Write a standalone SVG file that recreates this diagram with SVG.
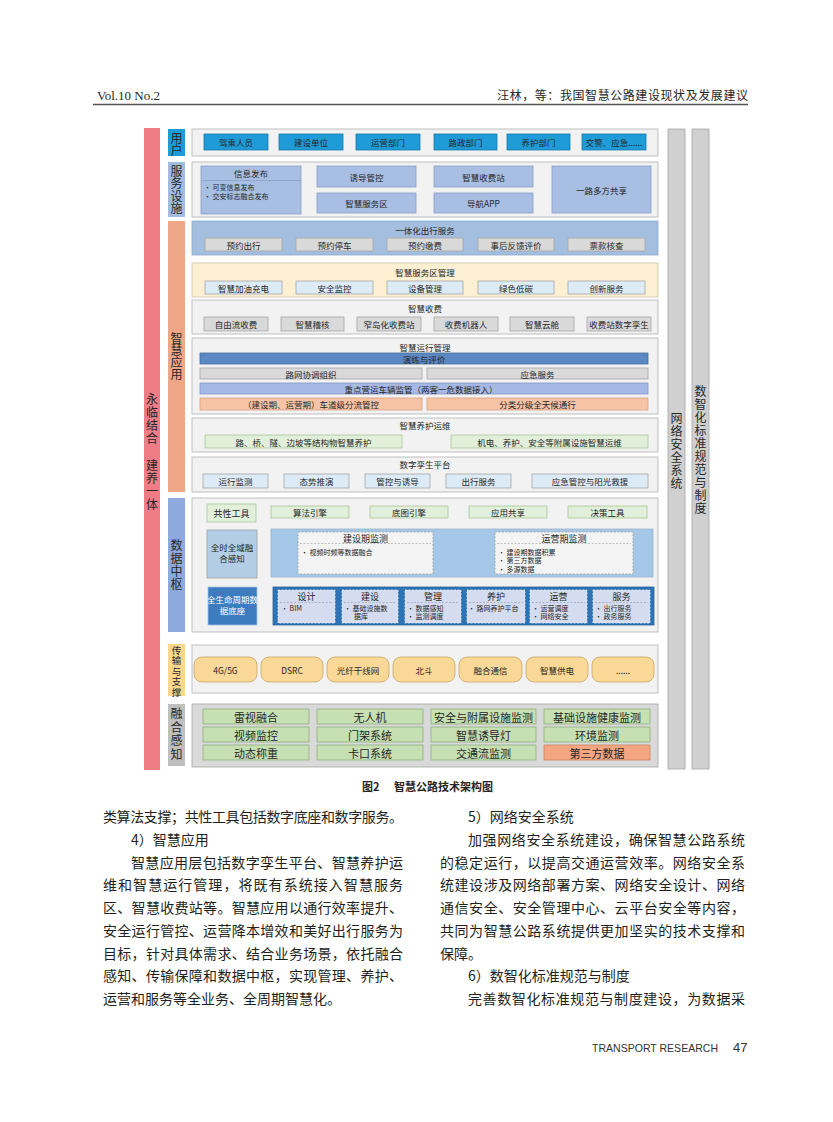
<svg xmlns="http://www.w3.org/2000/svg" width="833" height="1122" viewBox="0 0 833 1122">
<style>
text{font-family:"Noto Sans CJK SC","Noto Sans",sans-serif;fill:#262626}
.c{text-anchor:middle;dominant-baseline:central}
.m{dominant-baseline:central}
.v{text-anchor:middle;dominant-baseline:central;font-size:12px}
.f8{font-size:8.5px}
.f7{font-size:7px}
.f9{font-size:9px}
.f11{font-size:11px}
.cont{fill:#F2F2F2;stroke:#BFBFBF;stroke-width:1}
.ub{fill:#1F9CD8;stroke:#1B78A8;stroke-width:.8}
.sv{fill:#A9BEE3;stroke:#8A9FC6;stroke-width:.8}
.gb{fill:#D9D9D9;stroke:#A6A6A6;stroke-width:.8}
.lb{fill:#DDEBF7;stroke:#A6A6A6;stroke-width:.8}
.gr{fill:#E2EFDA;stroke:#A9C89A;stroke-width:.8}
.gr2{fill:#C6E0B4;stroke:#8FB07D;stroke-width:.8}
.tr{fill:#F9D898;stroke:#C8A766;stroke-width:.8}
.wb{fill:#F4F4F4;stroke:#A0A0A0;stroke-width:.8;stroke-dasharray:2 1.5}
.ib{fill:#D5DCF0;stroke:#E8ECF8;stroke-width:.8;stroke-dasharray:2 1.5}
.dl{stroke:#A0A0A0;stroke-width:.6;stroke-dasharray:2 1.5}
.body{font-size:14px;fill:#231F20}
.w{fill:#FFFFFF}
</style>

<g id="page-header">
<text x="97" y="100" style="font-family:'Liberation Serif',serif;font-size:13px">Vol.10 No.2</text>
<text x="497" y="100" textLength="251" lengthAdjust="spacing" style="font-size:12px">汪林，等：我国智慧公路建设现状及发展建议</text>
<line x1="93" y1="104.5" x2="748" y2="104.5" stroke="#555" stroke-width="1.5"/>
</g>

<g id="side-left">
<rect x="144" y="128" width="16" height="642" fill="#F07C86"/>
<text class="v" x="152 152 152 152" y="398 411 424 437">永临结合</text>
<text class="v" x="152 152 152 152" y="464 477 490 503">建养一体</text>
</g>

<g id="side-right">
<rect x="668" y="129" width="17" height="640" fill="#D0D0D0" stroke="#A6A6A6" stroke-width=".8"/>
<rect x="692" y="129" width="17" height="640" fill="#D0D0D0" stroke="#A6A6A6" stroke-width=".8"/>
<text class="v" x="676.5 676.5 676.5 676.5 676.5 676.5" y="417 430 443 456 469 482">网络安全系统</text>
<text class="v" x="700.5 700.5 700.5 700.5 700.5 700.5 700.5 700.5 700.5 700.5" y="390 403 416 429 442 455 468 481 494 507">数智化标准规范与制度</text>
</g>

<g id="layer-users">
<rect x="168" y="129" width="17" height="27" fill="#1F9CD8"/>
<text class="v" x="176.5 176.5" y="137 149">用户</text>
<rect class="cont" x="192" y="129" width="466" height="27"/>
<rect class="ub" x="204" y="134" width="64" height="16"/>
<rect class="ub" x="279" y="134" width="64" height="16"/>
<rect class="ub" x="356" y="134" width="64" height="16"/>
<rect class="ub" x="434" y="134" width="63" height="16"/>
<rect class="ub" x="507" y="134" width="63" height="16"/>
<rect class="ub" x="582" y="134" width="64" height="16"/>
<g class="f8">
<text class="c" x="236" y="142">驾乘人员</text>
<text class="c" x="311" y="142">建设单位</text>
<text class="c" x="388" y="142">运营部门</text>
<text class="c" x="465.5" y="142">路政部门</text>
<text class="c" x="538.5" y="142">养护部门</text>
<text class="c" x="614" y="142">交警、应急......</text>
</g>
</g>

<g id="layer-service">
<rect x="168" y="162" width="17" height="55" fill="#A3BBE0"/>
<text class="v" x="176.5 176.5 176.5 176.5" y="170 182.5 195 207.5">服务设施</text>
<rect class="cont" x="192" y="162" width="466" height="55"/>
<rect class="sv" x="201" y="166" width="100" height="48"/>
<line x1="201" y1="180.5" x2="301" y2="180.5" stroke="#8A9FC6" stroke-width=".8"/>
<text class="c f8" x="251" y="173">信息发布</text>
<text class="f7"><tspan x="204" y="190">•  可变信息发布</tspan><tspan x="204" y="198.5">•  交安标志融合发布</tspan></text>
<rect class="sv" x="317" y="166" width="99" height="21"/>
<rect class="sv" x="317" y="193" width="99" height="20"/>
<rect class="sv" x="434" y="166" width="99" height="21"/>
<rect class="sv" x="434" y="193" width="99" height="20"/>
<rect class="sv" x="552" y="166" width="99" height="47"/>
<g class="f8">
<text class="c" x="366.5" y="176.5">诱导管控</text>
<text class="c" x="366.5" y="203">智慧服务区</text>
<text class="c" x="483.5" y="176.5">智慧收费站</text>
<text class="c" x="483.5" y="203">导航APP</text>
<text class="c" x="601.5" y="189.5">一路多方共享</text>
</g>
</g>

<g id="layer-app">
<rect x="168" y="221" width="17" height="271" fill="#EEA787"/>
<text class="v" x="176.5 176.5 176.5 176.5" y="337 349 361 373">智慧应用</text>
</g>

<g id="app-travel">
<rect x="192" y="221" width="466" height="34" fill="#A4BEE0" stroke="#8EA8CE" stroke-width=".8"/>
<text class="c f8" x="425" y="229.5">一体化出行服务</text>
<rect class="gb" x="205" y="238" width="77" height="13"/>
<rect class="gb" x="296" y="238" width="77" height="13"/>
<rect class="gb" x="387" y="238" width="76" height="13"/>
<rect class="gb" x="478" y="238" width="76" height="13"/>
<rect class="gb" x="568" y="238" width="77" height="13"/>
<g class="f8">
<text class="c" x="243.5" y="244.5">预约出行</text>
<text class="c" x="334.5" y="244.5">预约停车</text>
<text class="c" x="425" y="244.5">预约缴费</text>
<text class="c" x="516" y="244.5">事后反馈评价</text>
<text class="c" x="606.5" y="244.5">票款核查</text>
</g>
</g>

<g id="app-servicearea">
<rect x="192" y="263" width="466" height="34" fill="#FDF0D2" stroke="#C9C2AE" stroke-width=".8"/>
<text class="c f8" x="425" y="272">智慧服务区管理</text>
<rect class="lb" x="205" y="281" width="77" height="13"/>
<rect class="lb" x="296" y="281" width="77" height="13"/>
<rect class="lb" x="387" y="281" width="76" height="13"/>
<rect class="lb" x="478" y="281" width="76" height="13"/>
<rect class="lb" x="568" y="281" width="77" height="13"/>
<g class="f8">
<text class="c" x="243.5" y="287.5">智慧加油充电</text>
<text class="c" x="334.5" y="287.5">安全监控</text>
<text class="c" x="425" y="287.5">设备管理</text>
<text class="c" x="516" y="287.5">绿色低碳</text>
<text class="c" x="606.5" y="287.5">创新服务</text>
</g>
</g>

<g id="app-toll">
<rect class="cont" x="192" y="300" width="466" height="34"/>
<text class="c f8" x="425" y="308">智慧收费</text>
<rect class="gb" x="204" y="317" width="64" height="14"/>
<rect class="gb" x="281" y="317" width="63" height="14"/>
<rect class="gb" x="357" y="317" width="64" height="14"/>
<rect class="gb" x="434" y="317" width="64" height="14"/>
<rect class="gb" x="510" y="317" width="64" height="14"/>
<rect class="gb" x="587" y="317" width="64" height="14"/>
<g class="f8">
<text class="c" x="236" y="324">自由流收费</text>
<text class="c" x="312.5" y="324">智慧稽核</text>
<text class="c" x="389" y="324">窄岛化收费站</text>
<text class="c" x="466" y="324">收费机器人</text>
<text class="c" x="542" y="324">智慧云舱</text>
<text class="c" x="619" y="324">收费站数字孪生</text>
</g>
</g>

<g id="app-operation">
<rect class="cont" x="192" y="338" width="466" height="76"/>
<text class="c f8" x="425" y="346.5">智慧运行管理</text>
<rect x="200" y="353" width="448" height="11" fill="#5B88C2" stroke="#41719C" stroke-width=".8"/>
<rect class="gb" x="200" y="368" width="222" height="11"/>
<rect class="gb" x="427" y="368" width="221" height="11"/>
<rect x="200" y="383" width="448" height="11" fill="#A5B8E6" stroke="#8497C8" stroke-width=".8"/>
<rect x="200" y="398" width="222" height="12" fill="#F8C4A6" stroke="#D9A07F" stroke-width=".8"/>
<rect x="427" y="398" width="221" height="12" fill="#F8C4A6" stroke="#D9A07F" stroke-width=".8"/>
<g class="f8">
<text class="c" x="424" y="358.5">演练与评价</text>
<text class="c" x="311" y="373.5">路网协调组织</text>
<text class="c" x="537.5" y="373.5">应急服务</text>
<text class="c" x="421" y="388.5">重点营运车辆监管（两客一危数据接入）</text>
<text class="c" x="311" y="404">（建设期、运营期）车道级分流管控</text>
<text class="c" x="537.5" y="404">分类分级全天候通行</text>
</g>
</g>

<g id="app-maintenance">
<rect class="cont" x="192" y="418" width="466" height="34"/>
<text class="c f8" x="425" y="425">智慧养护运维</text>
<rect class="gr" x="205" y="435" width="197" height="13"/>
<rect class="gr" x="451" y="435" width="197" height="13"/>
<g class="f8">
<text class="c" x="303.5" y="441.5">路、桥、隧、边坡等结构物智慧养护</text>
<text class="c" x="549.5" y="441.5">机电、养护、安全等附属设施智慧运维</text>
</g>
</g>

<g id="app-twin">
<rect class="cont" x="192" y="457" width="466" height="35"/>
<text class="c f8" x="425" y="463.5">数字孪生平台</text>
<rect class="lb" x="203" y="474" width="65" height="14"/>
<rect class="lb" x="284" y="474" width="65" height="14"/>
<rect class="lb" x="365" y="474" width="65" height="14"/>
<rect class="lb" x="446" y="474" width="65" height="14"/>
<rect class="lb" x="532" y="474" width="116" height="14"/>
<g class="f8">
<text class="c" x="235.5" y="481">运行监测</text>
<text class="c" x="316.5" y="481">态势推演</text>
<text class="c" x="397.5" y="481">管控与诱导</text>
<text class="c" x="478.5" y="481">出行服务</text>
<text class="c" x="590" y="481">应急管控与阳光救援</text>
</g>
</g>

<g id="layer-datahub">
<rect x="168" y="498" width="17" height="134" fill="#8EA9DB"/>
<text class="v" x="176.5 176.5 176.5 176.5" y="544 557 570 583">数据中枢</text>
<rect class="cont" x="192" y="498" width="466" height="134"/>
<rect class="gr" x="207" y="504" width="49" height="18"/>
<text class="c f9" x="231.5" y="513">共性工具</text>
<rect class="gr" x="271" y="506" width="78" height="12"/>
<rect class="gr" x="370" y="506" width="78" height="12"/>
<rect class="gr" x="469" y="506" width="78" height="12"/>
<rect class="gr" x="568" y="506" width="79" height="12"/>
<g class="f8">
<text class="c" x="310" y="512">算法引擎</text>
<text class="c" x="409" y="512">底图引擎</text>
<text class="c" x="508" y="512">应用共享</text>
<text class="c" x="607.5" y="512">决策工具</text>
</g>
<rect x="207" y="530" width="50" height="48" fill="#B3CDE7" stroke="#A0A0A0" stroke-width=".8"/>
<text class="f8" text-anchor="middle"><tspan x="232" y="551">全时全域融</tspan><tspan x="232" y="562">合感知</tspan></text>
<rect x="271" y="529" width="382" height="48" fill="#A6C8E8" stroke="#9AB4CC" stroke-width=".8"/>
<rect class="wb" x="298" y="532" width="135" height="42"/>
<line class="dl" x1="300" y1="543.5" x2="431" y2="543.5"/>
<text class="c f9" x="365.5" y="538">建设期监测</text>
<text class="f7" x="301" y="555">•   视频时频等数据融合</text>
<rect class="wb" x="495" y="532" width="138" height="42"/>
<line class="dl" x1="497" y1="543.5" x2="631" y2="543.5"/>
<text class="c f9" x="564" y="538">运营期监测</text>
<text class="f7"><tspan x="498" y="554.5">•   建设期数据积累</tspan><tspan x="498" y="563">•   第三方数据</tspan><tspan x="498" y="571.5">•   多源数据</tspan></text>
<rect x="208" y="587" width="49" height="38" fill="#3E7CC0" stroke="#9DC3E6" stroke-width=".8"/>
<text class="f8 w" text-anchor="middle"><tspan class="w" x="232.5" y="603">全生命周期数</tspan><tspan class="w" x="232.5" y="614">据底座</tspan></text>
<rect x="273" y="587" width="381" height="38" fill="#2E74B5" stroke="#2A65A0" stroke-width=".8"/>
<rect class="ib" x="278" y="590" width="57" height="33"/>
<rect class="ib" x="342" y="590" width="56" height="33"/>
<rect class="ib" x="405" y="590" width="56" height="33"/>
<rect class="ib" x="467" y="590" width="58" height="33"/>
<rect class="ib" x="530" y="590" width="57" height="33"/>
<rect class="ib" x="593" y="590" width="57" height="33"/>
<g stroke="#8A93B0" stroke-width=".6" stroke-dasharray="2 1.5">
<line x1="280" y1="602.5" x2="333" y2="602.5"/>
<line x1="344" y1="602.5" x2="396" y2="602.5"/>
<line x1="407" y1="602.5" x2="459" y2="602.5"/>
<line x1="469" y1="602.5" x2="523" y2="602.5"/>
<line x1="532" y1="602.5" x2="585" y2="602.5"/>
<line x1="595" y1="602.5" x2="648" y2="602.5"/>
</g>
<g class="f9">
<text class="c" x="306.5" y="596.5">设计</text>
<text class="c" x="370" y="596.5">建设</text>
<text class="c" x="433" y="596.5">管理</text>
<text class="c" x="496" y="596.5">养护</text>
<text class="c" x="558.5" y="596.5">运营</text>
<text class="c" x="621.5" y="596.5">服务</text>
</g>
<g class="f7">
<text x="281" y="611">•   BIM</text>
<text><tspan x="344" y="611">•   基础设施数</tspan><tspan x="354" y="619">据库</tspan></text>
<text><tspan x="407" y="611">•   数据感知</tspan><tspan x="407" y="619">•   监测调度</tspan></text>
<text x="468" y="611">• 路网养护平台</text>
<text><tspan x="532" y="611">•   运营调度</tspan><tspan x="532" y="619">•   网络安全</tspan></text>
<text><tspan x="595" y="611">•   出行服务</tspan><tspan x="595" y="619">•   政务服务</tspan></text>
</g>
</g>

<g id="layer-transport">
<rect x="168" y="644" width="17" height="52" fill="#FCD68C"/>
<text class="v" x="176.5 176.5 176.5 176.5 176.5" y="649.5 660 670.5 681 691.5" style="font-size:9.5px">传输与支撑</text>
<rect class="cont" x="192" y="645" width="466" height="48"/>
<rect class="tr" x="194" y="657" width="63" height="25" rx="8"/>
<rect class="tr" x="261" y="657" width="62" height="25" rx="8"/>
<rect class="tr" x="327" y="657" width="62" height="25" rx="8"/>
<rect class="tr" x="393" y="657" width="62" height="25" rx="8"/>
<rect class="tr" x="459" y="657" width="63" height="25" rx="8"/>
<rect class="tr" x="526" y="657" width="62" height="25" rx="8"/>
<rect class="tr" x="592" y="657" width="62" height="25" rx="8"/>
<g class="f8">
<text class="c" x="225.5" y="669.5">4G/5G</text>
<text class="c" x="292" y="669.5">DSRC</text>
<text class="c" x="358" y="669.5">光纤干线网</text>
<text class="c" x="424" y="669.5">北斗</text>
<text class="c" x="490.5" y="669.5">融合通信</text>
<text class="c" x="557" y="669.5">智慧供电</text>
<text class="c" x="623" y="669.5">......</text>
</g>
</g>

<g id="layer-sensing">
<rect x="168" y="704" width="17" height="62" fill="#BFBFBF"/>
<text class="v" x="176.5 176.5 176.5 176.5" y="712.5 726 739.5 753">融合感知</text>
<rect x="192" y="704" width="466" height="63" fill="#D9D9D9" stroke="#A6A6A6" stroke-width=".8"/>
<rect class="gr2" x="203" y="709" width="106" height="15"/>
<rect class="gr2" x="317" y="709" width="106" height="15"/>
<rect class="gr2" x="431" y="709" width="105" height="15"/>
<rect class="gr2" x="544" y="709" width="106" height="15"/>
<rect class="gr2" x="203" y="727" width="106" height="15"/>
<rect class="gr2" x="317" y="727" width="106" height="15"/>
<rect class="gr2" x="431" y="727" width="105" height="15"/>
<rect class="gr2" x="544" y="727" width="106" height="15"/>
<rect class="gr2" x="203" y="745" width="106" height="15"/>
<rect class="gr2" x="317" y="745" width="106" height="15"/>
<rect class="gr2" x="431" y="745" width="105" height="15"/>
<rect x="544" y="745" width="106" height="15" fill="#F4A582" stroke="#C98662" stroke-width=".8"/>
<g class="f11">
<text class="c" x="256" y="716.5">雷视融合</text>
<text class="c" x="370" y="716.5">无人机</text>
<text class="c" x="483.5" y="716.5">安全与附属设施监测</text>
<text class="c" x="597" y="716.5">基础设施健康监测</text>
<text class="c" x="256" y="734.5">视频监控</text>
<text class="c" x="370" y="734.5">门架系统</text>
<text class="c" x="483.5" y="734.5">智慧诱导灯</text>
<text class="c" x="597" y="734.5">环境监测</text>
<text class="c" x="256" y="752.5">动态称重</text>
<text class="c" x="370" y="752.5">卡口系统</text>
<text class="c" x="483.5" y="752.5">交通流监测</text>
<text class="c" x="597" y="752.5">第三方数据</text>
</g>
</g>

<g id="caption" style="font-size:11px;font-weight:bold">
<text x="362" y="791">图2</text>
<text x="394" y="791" textLength="99" lengthAdjust="spacing">智慧公路技术架构图</text>
</g>

<g id="body-left">
<text class="body m" x="103" y="816" textLength="300" lengthAdjust="spacing">类算法支撑；共性工具包括数字底座和数字服务。</text>
<text class="body m" x="131" y="839">4）智慧应用</text>
<text class="body m" x="131" y="862" textLength="272" lengthAdjust="spacing">智慧应用层包括数字孪生平台、智慧养护运</text>
<text class="body m" x="103" y="884" textLength="300" lengthAdjust="spacing">维和智慧运行管理，将既有系统接入智慧服务</text>
<text class="body m" x="103" y="907" textLength="300" lengthAdjust="spacing">区、智慧收费站等。智慧应用以通行效率提升、</text>
<text class="body m" x="103" y="930" textLength="300" lengthAdjust="spacing">安全运行管控、运营降本增效和美好出行服务为</text>
<text class="body m" x="103" y="953" textLength="300" lengthAdjust="spacing">目标，针对具体需求、结合业务场景，依托融合</text>
<text class="body m" x="103" y="975" textLength="300" lengthAdjust="spacing">感知、传输保障和数据中枢，实现管理、养护、</text>
<text class="body m" x="103" y="998">运营和服务等全业务、全周期智慧化。</text>
</g>

<g id="body-right">
<text class="body m" x="468" y="816">5）网络安全系统</text>
<text class="body m" x="468" y="839" textLength="277" lengthAdjust="spacing">加强网络安全系统建设，确保智慧公路系统</text>
<text class="body m" x="440" y="862" textLength="305" lengthAdjust="spacing">的稳定运行，以提高交通运营效率。网络安全系</text>
<text class="body m" x="440" y="884" textLength="305" lengthAdjust="spacing">统建设涉及网络部署方案、网络安全设计、网络</text>
<text class="body m" x="440" y="907" textLength="305" lengthAdjust="spacing">通信安全、安全管理中心、云平台安全等内容，</text>
<text class="body m" x="440" y="930" textLength="305" lengthAdjust="spacing">共同为智慧公路系统提供更加坚实的技术支撑和</text>
<text class="body m" x="440" y="953">保障。</text>
<text class="body m" x="468" y="975">6）数智化标准规范与制度</text>
<text class="body m" x="468" y="998" textLength="277" lengthAdjust="spacing">完善数智化标准规范与制度建设，为数据采</text>
</g>

<g id="page-footer">
<text x="592" y="1052" textLength="126" lengthAdjust="spacing" style="font-family:'Liberation Sans',sans-serif;font-size:10.5px;fill:#333">TRANSPORT RESEARCH</text>
<text x="733" y="1052" style="font-family:'Liberation Sans',sans-serif;font-size:13px;fill:#333">47</text>
</g>
</svg>
